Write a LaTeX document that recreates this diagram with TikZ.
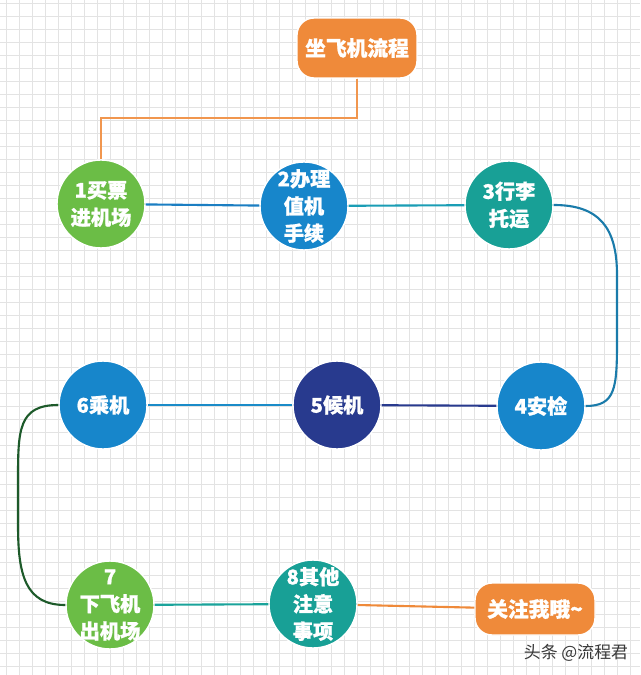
\documentclass[tikz,border=0pt]{standalone}
\usepackage{fontspec}
\newfontfamily\cjk{Noto Sans CJK SC}[BoldFeatures={FakeBold=1}]

\definecolor{flowOrange}{HTML}{EF8A3A}
\definecolor{flowGreen}{HTML}{6BBD46}
\definecolor{flowBlue}{HTML}{1786CB}
\definecolor{flowTeal}{HTML}{18A096}
\definecolor{flowNavy}{HTML}{283A8E}
\definecolor{flowGrid}{HTML}{E3E3E3}
\definecolor{lineBlue}{HTML}{1B7EC2}
\definecolor{lineCyan}{HTML}{1A9DB5}
\definecolor{lineSea}{HTML}{1A7BAA}
\definecolor{lineSky}{HTML}{1A8BC8}
\definecolor{lineForest}{HTML}{1D5A2A}
\definecolor{lineTeal}{HTML}{1AA39A}

\begin{document}
\begin{tikzpicture}[x=0.02cm, y=-0.02cm,
    stepnode/.style={circle, fill=#1, draw=white, line width=0.8pt, text=white,
      minimum size=1.76cm, inner sep=-3pt, align=center,
      font=\cjk\bfseries\fontsize{11.5}{15.5}\selectfont},
    tagbox/.style={rounded corners=0.34cm, fill=flowOrange, draw=white, line width=0.8pt,
      text=white, minimum width=2.4cm, minimum height=#1,
      font=\cjk\bfseries\fontsize{11.8}{15.5}\selectfont},
    link/.style={draw=#1, line width=1.2pt}]
        \useasboundingbox (0,0) rectangle (640,675);
        \fill[white] (0,0) rectangle (640,675);
        % grid
        \foreach \x in {6.5,19.5,...,640}{
          \draw[flowGrid, line width=0.4pt] (\x,0) -- (\x,675);
        }
        \foreach \y in {3,16,...,675}{
          \draw[flowGrid, line width=0.4pt] (0,\y) -- (640,\y);
        }
        % nodes
        \node[tagbox=1.2cm] (title) at (357,48) {坐飞机流程};
        \node[stepnode=flowGreen] (buy) at (101,204) {1买票\\进机场};
        \node[stepnode=flowBlue] (checkin) at (304,206) {2办理\\值机\\手续};
        \node[stepnode=flowTeal] (luggage) at (509,205) {3行李\\托运};
        \node[stepnode=flowBlue] (security) at (541,406) {4安检};
        \node[stepnode=flowNavy] (wait) at (337,405) {5候机};
        \node[stepnode=flowBlue] (board) at (103,405) {6乘机};
        \node[stepnode=flowGreen] (arrive) at (110,605) {7\\下飞机\\出机场};
        \node[stepnode=flowTeal] (notes) at (313,604) {8其他\\注意\\事项};
        \node[tagbox=1.04cm] (follow) at (535,609) {关注我哦\textasciitilde};
        \node[text=black!78, font=\cjk\fontsize{9.6}{11}\selectfont] (mark) at (576,653) {头条 @流程君};
        % connectors
        \draw[link=flowOrange!90!white] (title.south) -- (title.south |- 0,118) -| (buy.north);
        \draw[link=lineBlue] (buy) -- (checkin);
        \draw[link=lineCyan] (checkin) -- (luggage);
        \draw[link=lineSea] (luggage.east) .. controls +(45,0) and +(0,-48) .. (617,275)
          -- (617,340) .. controls +(0,48) and +(30,0) .. (security.east);
        \draw[link=flowNavy] (security) -- (wait);
        \draw[link=lineSky] (wait) -- (board);
        \draw[link=lineForest] (board.west) .. controls +(-40,0) and +(0,-50) .. (18,480)
          -- (18,525) .. controls +(0,50) and +(-40,0) .. (arrive.west);
        \draw[link=lineTeal] (arrive) -- (notes);
        \draw[link=flowOrange] (notes) -- (follow);
      \end{tikzpicture}
\end{document}
